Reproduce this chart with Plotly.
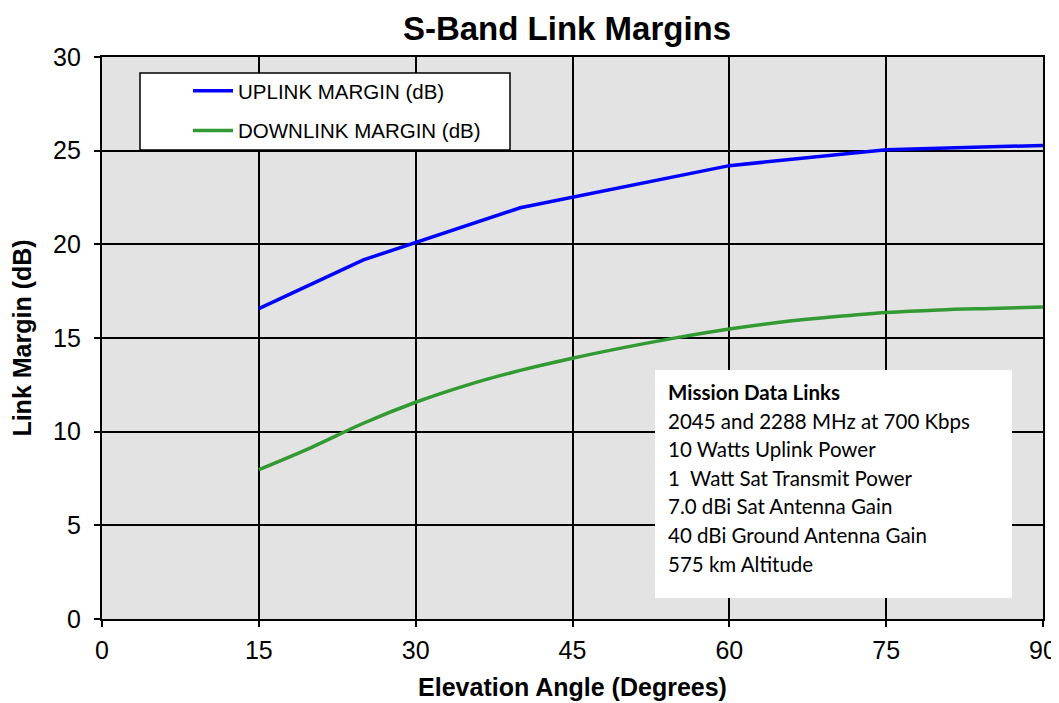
import plotly.graph_objects as go

elev_up = [15, 25, 40, 60, 75, 90]
uplink = [16.57, 19.17, 21.95, 24.2, 25.05, 25.28]
elev_dn = [15, 20, 25, 30, 35, 40, 45, 50, 55, 60, 65, 70, 75, 80, 85, 90]
downlink = [7.97, 9.15, 10.45, 11.57, 12.5, 13.27, 13.92, 14.5, 15.02, 15.48, 15.85, 16.13, 16.36, 16.5, 16.58, 16.65]

info_lines = [
    "<b>Mission Data Links</b>",
    "2045 and 2288 MHz at 700 Kbps",
    "10 Watts Uplink Power",
    "1  Watt Sat Transmit Power",
    "7.0 dBi Sat Antenna Gain",
    "40 dBi Ground Antenna Gain",
    "575 km Altitude",
]

fig = go.Figure()
fig.add_trace(go.Scatter(x=elev_up, y=uplink, mode="lines", name="UPLINK MARGIN (dB)",
                         legendgroup="up",
                         line=dict(color="#0000ff", width=3.5)))
fig.add_trace(go.Scatter(x=elev_dn, y=downlink, mode="lines", name="DOWNLINK MARGIN (dB)",
                         legendgroup="dn",
                         line=dict(color="#339933", width=3.5, shape="spline")))

OFF = 8  # page body margin
SW, SH = 1059, 703
W, H = SW + 24, SH - OFF
# screen-space plot area: x 102..1043, y 57..619
L, T = 102 - OFF, 57 - OFF
R = (OFF + W) - 1043
B = (OFF + H) - 619
pw, ph = W - L - R, H - T - B

def px_x(p):
    return (p - OFF - L) / pw

def px_y(p):
    return (H - B - (p - OFF)) / ph

# legend box
fig.add_shape(type="rect", xref="paper", yref="paper",
              x0=px_x(140), x1=px_x(510), y0=px_y(150), y1=px_y(73),
              fillcolor="white", line=dict(color="black", width=1.5), layer="above")
# info box
fig.add_shape(type="rect", xref="paper", yref="paper",
              x0=px_x(655), x1=px_x(1012), y0=px_y(598), y1=px_y(370),
              fillcolor="white", line=dict(width=0), layer="above")
for i, line in enumerate(info_lines):
    fig.add_annotation(xref="paper", yref="paper", x=px_x(666), y=px_y(392 + i * 28.6),
                       xanchor="left", yanchor="middle", align="left", showarrow=False,
                       text=line,
                       font=dict(family="Lato, Open Sans, sans-serif", size=20.5, color="black"))

fig.update_layout(
    width=W, height=H,
    margin=dict(l=L, r=R, t=T, b=B),
    paper_bgcolor="white", plot_bgcolor="#e3e3e3",
    title=dict(text="<b>S-Band Link Margins</b>", x=(567 - OFF) / W, xanchor="center",
               y=1 - (28 - OFF) / H, yanchor="middle",
               font=dict(family="Liberation Sans, Arial", size=33, color="black")),
    font=dict(family="Liberation Sans, Arial", color="black"),
    legend=dict(x=px_x(188), y=px_y(71), xanchor="left", yanchor="top",
                bgcolor="rgba(0,0,0,0)", borderwidth=0,
                font=dict(family="Liberation Sans, Arial", size=20.5, color="black"),
                tracegroupgap=10, itemwidth=40),
    showlegend=True,
)
fig.update_xaxes(range=[0, 90], tickvals=[0, 15, 30, 45, 60, 75, 90],
                 showgrid=True, gridcolor="black", gridwidth=1.8,
                 showline=True, linecolor="black", linewidth=2.2, mirror=True,
                 ticks="outside", ticklen=6, tickcolor="black", tickwidth=1.8,
                 ticklabelstandoff=2, automargin=False,
                 zeroline=False, tickfont=dict(size=25),
                 title=dict(text="<b>Elevation Angle (Degrees)</b>", font=dict(size=25), standoff=15))
fig.update_yaxes(range=[0, 30], tickvals=[0, 5, 10, 15, 20, 25, 30],
                 showgrid=True, gridcolor="black", gridwidth=1.8,
                 showline=True, linecolor="black", linewidth=2.2, mirror=True,
                 ticks="outside", ticklen=6, tickcolor="black", tickwidth=1.8,
                 ticklabelstandoff=8, automargin=False,
                 zeroline=False, tickfont=dict(size=25),
                 title=dict(text="<b>Link Margin (dB)</b>", font=dict(size=25), standoff=16))

fig.write_html("out.html")
